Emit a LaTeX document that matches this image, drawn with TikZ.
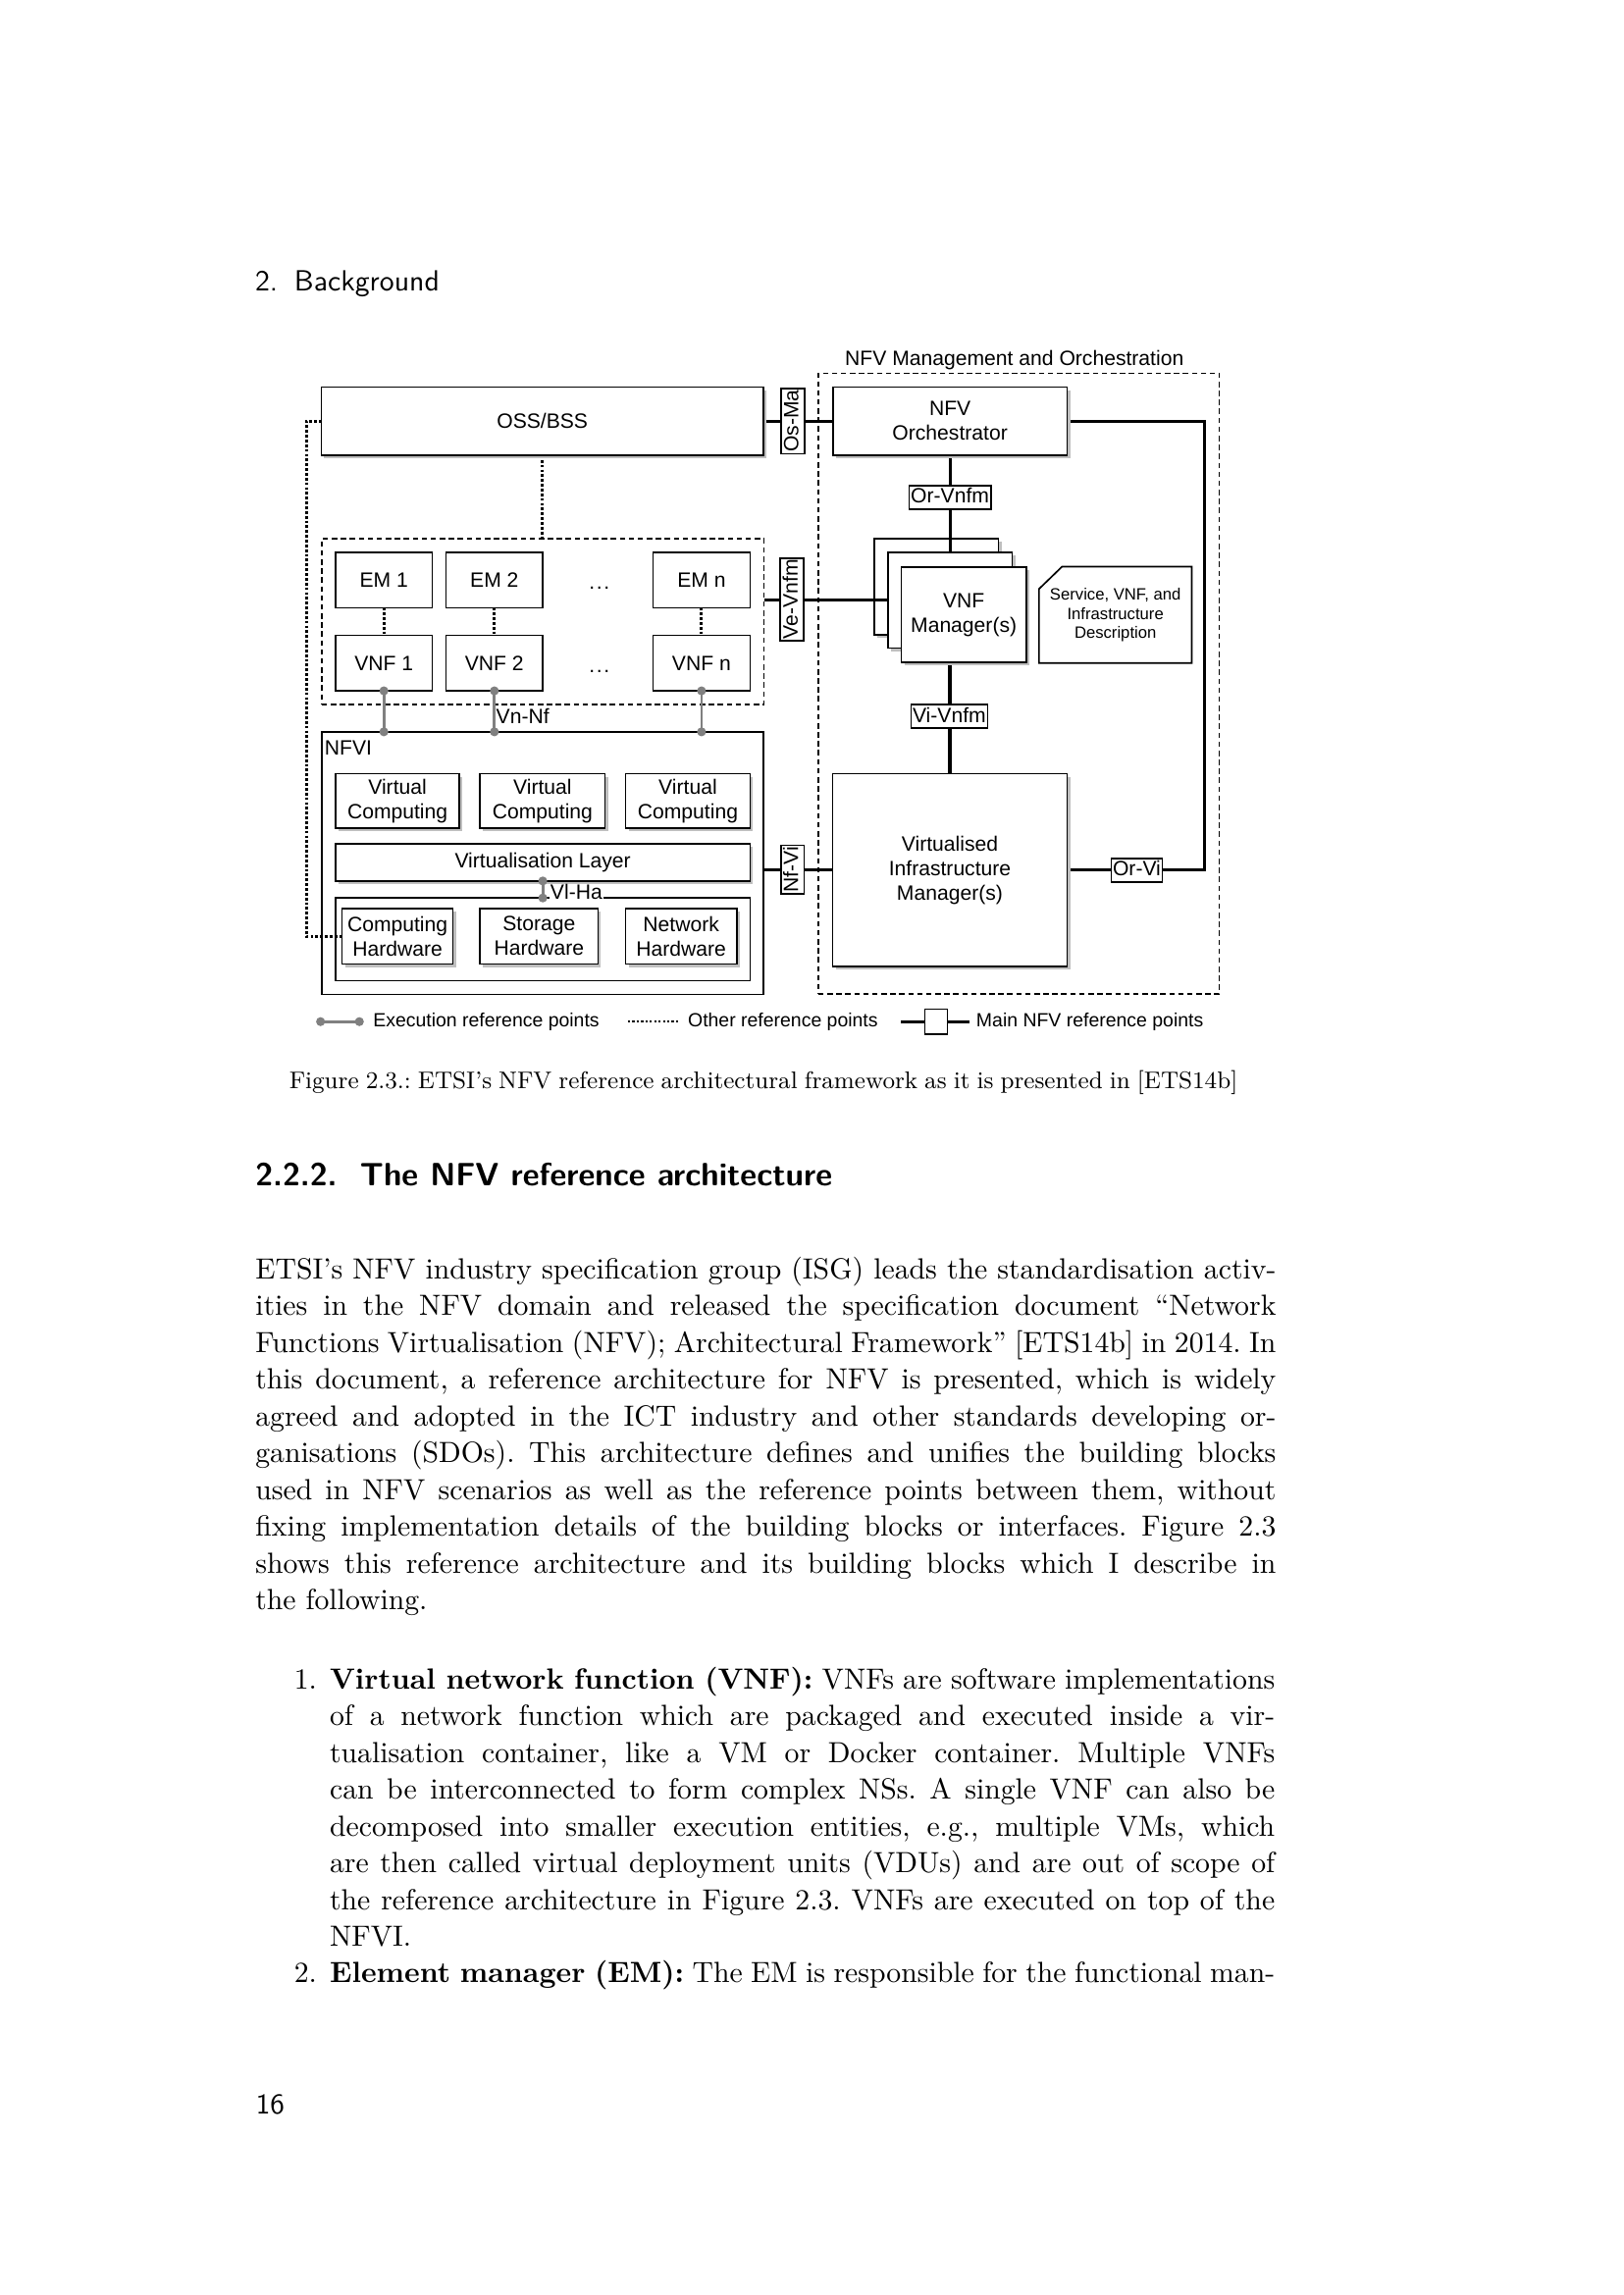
\documentclass[tikz,border=0pt]{standalone}
\usepackage{fontspec}
\newfontfamily\arial{Liberation Sans}
\usetikzlibrary{shadows,calc}
\pgfdeclarelayer{paper}\pgfdeclarelayer{bg}\pgfdeclarelayer{mid}\pgfdeclarelayer{fg}
\pgfsetlayers{paper,bg,mid,main,fg}
\newcommand\dfont{\arial\fontsize{7.6}{9}\selectfont}
\newcommand\sfont{\arial\fontsize{6}{7}\selectfont}
\newcommand\lfont{\arial\fontsize{7}{8.4}\selectfont}
\newcommand\bodyfont{\frenchspacing\fontsize{10.7}{13.5}\selectfont}
\newcommand\capfont{\frenchspacing\fontsize{8.8}{11}\selectfont}
\newlength\bodyw \setlength\bodyw{374.3pt}
\newlength\listw \setlength\listw{346.6pt}
\newcommand\rbox[7]{\node[#1,minimum width={(#5-#3)*0.5368pt},minimum height={(#6-#4)*0.5368pt}] (#2) at ({(#3+#5)/2},{(#4+#6)/2}) {#7};}
\newcommand\jline[5]{\node[txt,anchor=base west,font=\bodyfont] (#1) at (#2,#3) {\makebox[#4][s]{#5}};}
\newcommand\pline[4]{\node[txt,anchor=base west,font=\bodyfont] (#1) at (#2,#3) {#4};}
\tikzset{
 rb/.style={draw,line width=0.6pt,fill=white,inner sep=0pt,outer sep=0pt,align=center,font=\dfont},
 rbn/.style={draw,line width=0.6pt,inner sep=0pt,outer sep=0pt},
 sh/.style={drop shadow={shadow xshift=1.1pt,shadow yshift=-1.1pt,fill=black!25,opacity=1}},
 dbox/.style={draw,line width=0.55pt,inner sep=0pt,outer sep=0pt,dash pattern=on 2pt off 1.3pt},
 mainline/.style={line width=1.1pt},
 other/.style={line width=1.05pt,dash pattern=on 1pt off 0.75pt},
 exe/.style={line width=1pt,draw=black!50},
 edot/.style={circle,fill=black!50,inner sep=0pt,minimum size=3.3pt},
 rl/.style={draw,fill=white,line width=0.6pt,inner sep=0.6pt,font=\dfont,rotate=90,text height=5.8pt,text depth=1.6pt},
 hl/.style={draw,fill=white,line width=0.6pt,inner sep=0.6pt,font=\dfont,text height=5.8pt,text depth=1.6pt},
 txt/.style={inner sep=0pt,outer sep=0pt},
}
\begin{document}
\begin{tikzpicture}[x=0.5368pt,y=-0.5368pt]
\begin{pgfonlayer}{paper}
\fill[white] (0,0) rectangle (1108.8,1568);
\end{pgfonlayer}
\useasboundingbox (0,0) rectangle (1108.8,1568);

% ---------- page header ----------
\node[txt,anchor=base west,font=\sffamily\fontsize{10.7}{13}\selectfont] (hnum) at (174.3,198.5) {2.};
\node[txt,anchor=base west,font=\sffamily\fontsize{10.7}{13}\selectfont] (htit) at (201.1,198.5) {Background};

% ---------- diagram: back layer ----------
\begin{pgfonlayer}{bg}
\rbox{dbox}{mano}{559}{255}{833}{679}{}
\rbox{dbox}{emg}{219.8}{368.1}{522}{481.2}{}
\rbox{rb,sh}{vnfmA}{597.2}{368.1}{682.1}{433.6}{}
\end{pgfonlayer}

\node[txt,font=\dfont] (manot) at (693,246) {NFV Management and Orchestration};

\rbox{rb,sh}{oss}{219.5}{264.5}{521.5}{311}{OSS/BSS}
\rbox{rb,sh}{nfvo}{569}{264.5}{729}{311}{NFV\\Orchestrator}
\rbox{rb,sh}{vnfmB}{606.6}{377.2}{691.5}{442.8}{}
\rbox{rb,sh}{vnfmC}{615.7}{387.3}{701.1}{452.6}{VNF\\Manager(s)}
\draw[line width=0.6pt,fill=white] (725.6,387.1) -- (814.2,387.1) -- (814.2,453) -- (709.8,453) -- (709.8,402.4) -- cycle;
\node[txt,font=\sfont,align=center] (desc) at (762,420.2) {Service, VNF, and\\Infrastructure\\Description};
\rbox{rb,sh}{vim}{568.8}{528.6}{729}{660.4}{Virtualised\\Infrastructure\\Manager(s)}

\rbox{rb}{em1}{229.2}{377.2}{295.3}{415.2}{EM 1}
\rbox{rb}{em2}{304.6}{377.2}{370.9}{415.2}{EM 2}
\rbox{rb}{emn}{446.1}{377.2}{512.4}{415.2}{EM n}
\rbox{rb}{vnf1}{229.2}{434}{295.3}{472}{VNF 1}
\rbox{rb}{vnf2}{304.6}{434}{370.9}{472}{VNF 2}
\rbox{rb}{vnfn}{446.1}{434}{512.4}{472}{VNF n}
\node[txt,font=\dfont] (dotsA) at (409.5,401.5) {.\hspace{0.6pt}.\hspace{0.6pt}.};
\node[txt,font=\dfont] (dotsB) at (409.5,458.5) {.\hspace{0.6pt}.\hspace{0.6pt}.};

\rbox{rbn}{nfvi}{219.8}{500}{521.6}{679.4}{}
\node[txt,font=\dfont,anchor=west] (nfvil) at (221.8,511.3) {NFVI};
\rbox{rb,sh}{vc1}{229.2}{528.6}{313.9}{566}{Virtual\\Computing}
\rbox{rb,sh}{vc2}{328}{528.6}{413.3}{566}{Virtual\\Computing}
\rbox{rb,sh}{vc3}{427.4}{528.6}{512.4}{566}{Virtual\\Computing}
\rbox{rb,sh}{vl}{229.2}{576.6}{512.4}{601.9}{Virtualisation Layer}
\rbox{rbn}{hw}{229.2}{613.5}{512.4}{670}{}
\rbox{rb,sh}{chw}{233.7}{620.6}{309.4}{658.6}{Computing\\Hardware}
\rbox{rb,sh}{shw}{328}{620.6}{408.5}{658.6}{Storage\\Hardware}
\rbox{rb,sh}{nhw}{427.4}{620.6}{503.3}{658.6}{Network\\Hardware}

% ---------- connectors ----------
\coordinate (orcorner) at (822.9,287.75);
\begin{pgfonlayer}{mid}
\draw[mainline] (oss.east) -- (nfvo.west);
\draw[mainline] (nfvo.south) -- (nfvo.south |- vnfmB.north);
\draw[mainline] (emg.east |- vnfmB.west) -- (vnfmB.west);
\draw[mainline] (vim.north |- vnfmC.south) -- (vim.north);
\draw[mainline] (nfvi.east |- vim.west) -- (vim.west);
\draw[mainline] (vim.east) -| (orcorner) -- (nfvo.east);
\draw[other] (oss.south) -- (oss.south |- emg.north);
\draw[other] (em1.south) -- (vnf1.north);
\draw[other] (em2.south) -- (vnf2.north);
\draw[other] (emn.south) -- (vnfn.north);
\draw[other] (oss.west) -- ++(-10.3,0) |- (chw.west);
\draw[exe] (vnf1.south) -- (vnf1.south |- nfvi.north);
\draw[exe] (vnf2.south) -- (vnf2.south |- nfvi.north);
\draw[exe] (vnfn.south) -- (vnfn.south |- nfvi.north);
\draw[exe] (vl.south) -- (vl.south |- hw.north);
\end{pgfonlayer}

\begin{pgfonlayer}{fg}
\node[rl] (osma) at (541.5,287.75) {Os-Ma};
\node[rl] (vevnfm) at (541,409.5) {Ve-Vnfm};
\node[rl] (nfvilab) at (541.4,594.2) {Nf-Vi};
\node[hl] (orvnfm) at (649,339.7) {Or-Vnfm};
\node[hl] (vivnfm) at (648.5,489.5) {Vi-Vnfm};
\node[hl] (orvi) at (776.6,594.5) {Or-Vi};
\node[edot] (d1a) at (vnf1.south) {};
\node[edot] (d1b) at (vnf1.south |- nfvi.north) {};
\node[edot] (d2a) at (vnf2.south) {};
\node[edot] (d2b) at (vnf2.south |- nfvi.north) {};
\node[edot] (d3a) at (vnfn.south) {};
\node[edot] (d3b) at (vnfn.south |- nfvi.north) {};
\node[edot] (d4a) at (vl.south) {};
\node[edot] (d4b) at (vl.south |- hw.north) {};
\node[txt,font=\dfont,anchor=west] (vnnf) at (339,489.5) {Vn-Nf};
\node[txt,font=\dfont,anchor=west,fill=white,inner xsep=0.3pt] (vlha) at (375.5,609.6) {Vl-Ha};
\end{pgfonlayer}

% ---------- legend ----------
\coordinate (lg1) at (219,698);
\coordinate (lg2) at (245.5,698);
\draw[exe] (lg1) -- (lg2);
\node[edot] (lgd1) at (lg1) {};
\node[edot] (lgd2) at (lg2) {};
\node[txt,font=\lfont,anchor=west] (lgt1) at (255,698) {Execution reference points};
\coordinate (lg3) at (429,698);
\coordinate (lg4) at (464,698);
\draw[line width=0.9pt,dash pattern=on 0.8pt off 0.8pt] (lg3) -- (lg4);
\node[txt,font=\lfont,anchor=west] (lgt2) at (470,698) {Other reference points};
\node[draw,fill=white,line width=0.6pt,inner sep=0pt,minimum width={15.3*0.5368pt},minimum height={17*0.5368pt}] (lgbox) at (639.5,698) {};
\coordinate (lg5) at (615.7,698);
\coordinate (lg6) at (662,698);
\draw[mainline] (lg5) -- (lgbox.west);
\draw[mainline] (lgbox.east) -- (lg6);
\node[txt,font=\lfont,anchor=west] (lgt3) at (667,698) {Main NFV reference points};

% ---------- caption and heading ----------
\node[txt,anchor=base west,font=\capfont] (cap) at (197.6,743.5) {\makebox[347.8pt][s]{Figure 2.3.: ETSI's NFV reference architectural framework as it is presented in [ETS14b]}};
\node[txt,anchor=base west,font=\sffamily\bfseries\fontsize{11.5}{14}\selectfont] (secn) at (174.5,810.2) {\resizebox{30pt}{!}{2.2.2.}};
\node[txt,anchor=base west,font=\sffamily\bfseries\fontsize{11.5}{14}\selectfont] (sect) at (246,810.2) {\resizebox{173.1pt}{!}{The NFV reference architecture}};

% ---------- body ----------
\jline{b1}{174.5}{873.8}{\bodyw}{ETSI's NFV industry specification group (ISG) leads the standardisation activ-}
\jline{b2}{174.5}{898.9}{\bodyw}{ities in the NFV domain and released the specification document ``Network}
\jline{b3}{174.5}{924.0}{\bodyw}{Functions Virtualisation (NFV); Architectural Framework'' [ETS14b] in 2014. In}
\jline{b4}{174.5}{949.2}{\bodyw}{this document, a reference architecture for NFV is presented, which is widely}
\jline{b5}{174.5}{974.3}{\bodyw}{agreed and adopted in the ICT industry and other standards developing or-}
\jline{b6}{174.5}{999.4}{\bodyw}{ganisations (SDOs). This architecture defines and unifies the building blocks}
\jline{b7}{174.5}{1024.5}{\bodyw}{used in NFV scenarios as well as the reference points between them, without}
\jline{b8}{174.5}{1049.6}{\bodyw}{fixing implementation details of the building blocks or interfaces. Figure 2.3}
\jline{b9}{174.5}{1074.8}{\bodyw}{shows this reference architecture and its building blocks which I describe in}
\pline{b10}{174.5}{1099.9}{the following.}

\node[txt,anchor=base east,font=\bodyfont] (n1) at (216.5,1153.9) {1.};
\jline{i1}{225.3}{1153.9}{\listw}{\textbf{Virtual network function (VNF):} VNFs are software implementations}
\jline{i2}{225.3}{1179.0}{\listw}{of a network function which are packaged and executed inside a vir-}
\jline{i3}{225.3}{1204.1}{\listw}{tualisation container, like a VM or Docker container. Multiple VNFs}
\jline{i4}{225.3}{1229.3}{\listw}{can be interconnected to form complex NSs. A single VNF can also be}
\jline{i5}{225.3}{1254.4}{\listw}{decomposed into smaller execution entities, e.g., multiple VMs, which}
\jline{i6}{225.3}{1279.5}{\listw}{are then called virtual deployment units (VDUs) and are out of scope of}
\jline{i7}{225.3}{1304.6}{\listw}{the reference architecture in Figure 2.3. VNFs are executed on top of the}
\pline{i8}{225.3}{1329.7}{NFVI.}
\node[txt,anchor=base east,font=\bodyfont] (n2) at (216.5,1354.8) {2.};
\jline{j1}{225.3}{1354.8}{\listw}{\textbf{Element manager (EM):} The EM is responsible for the functional man-}

% ---------- page number ----------
\node[txt,anchor=base west,font=\sffamily\fontsize{10.5}{13}\selectfont] (pgno) at (174.8,1444.6) {16};
\end{tikzpicture}
\end{document}
